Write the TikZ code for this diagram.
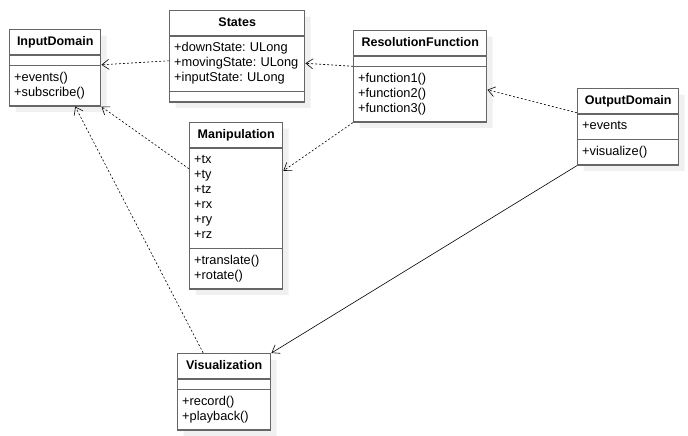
\documentclass[tikz,border=0pt]{standalone}
\usepackage{fontspec}
\setmainfont{Liberation Sans}
\usetikzlibrary{shapes.multipart,shadows,arrows.meta}
\frenchspacing

\newcommand{\classname}[1]{{\centering\fontsize{12.5}{15}\selectfont\bfseries\strut#1\par}}

\begin{document}
\begin{tikzpicture}[x=1pt, y=-1pt,
        classbox/.style={rectangle split, rectangle split parts=3, draw=black!60, line width=1.4pt, fill=white,
            anchor=north west, inner xsep=4.5pt, inner ysep=4.5pt, align=left,
            font=\fontsize{12.8}{15}\selectfont,
            rectangle split empty part height=0pt, rectangle split empty part depth=0pt,
            drop shadow={shadow xshift=6pt, shadow yshift=-6pt, fill=black!6, opacity=1}},
        uses/.style={draw=black, line width=0.6pt, dash pattern=on 2pt off 2pt, -{Straight Barb[length=7pt, width=10pt]}},
        assoc/.style={draw=black, line width=0.6pt, -{Straight Barb[length=7pt, width=10pt]}}]
        \useasboundingbox (0, 0) rectangle (688, 436);
        % classes
        \node[classbox, text width=82pt] (inputdomain) at (9, 29)
            {\classname{InputDomain}\nodepart{two}\nodepart{three}\strut+events()\\\strut+subscribe()};
        \node[classbox, text width=126pt] (states) at (169, 10)
            {\classname{States}\nodepart{two}\strut+downState: ULong\\\strut+movingState: ULong\\\strut+inputState: ULong\nodepart{three}};
        \node[classbox, text width=124pt] (resolution) at (353, 30)
            {\classname{ResolutionFunction}\nodepart{two}\nodepart{three}\strut+function1()\\\strut+function2()\\\strut+function3()};
        \node[classbox, text width=92pt] (outputdomain) at (577, 88)
            {\classname{OutputDomain}\nodepart{two}\strut+events\nodepart{three}\strut+visualize()};
        \node[classbox, text width=84pt] (manipulation) at (189, 122)
            {\classname{Manipulation}\nodepart{two}\strut+tx\\\strut+ty\\\strut+tz\\\strut+rx\\\strut+ry\\\strut+rz\nodepart{three}\strut+translate()\\\strut+rotate()};
        \node[classbox, text width=84pt] (visualization) at (177, 353)
            {\classname{Visualization}\nodepart{two}\nodepart{three}\strut+record()\\\strut+playback()};
        % dependencies
        \draw[uses] ([yshift=-4.5pt]states.west) -- ([yshift=3pt]inputdomain.east);
        \draw[uses] ([yshift=10pt]resolution.west) -- ([yshift=-7pt]states.east);
        \draw[uses] (resolution.south west) -- ([yshift=35pt]manipulation.east);
        \draw[uses] ([yshift=14pt]outputdomain.west) -- ([yshift=-13.5pt]resolution.east);
        \draw[uses] ([yshift=37pt]manipulation.west) -- (inputdomain.south east);
        \draw[uses] ([xshift=-21pt]visualization.north) -- ([xshift=20pt]inputdomain.south);
        \draw[assoc] (outputdomain.south west) -- (visualization.north east);
    \end{tikzpicture}
\end{document}
